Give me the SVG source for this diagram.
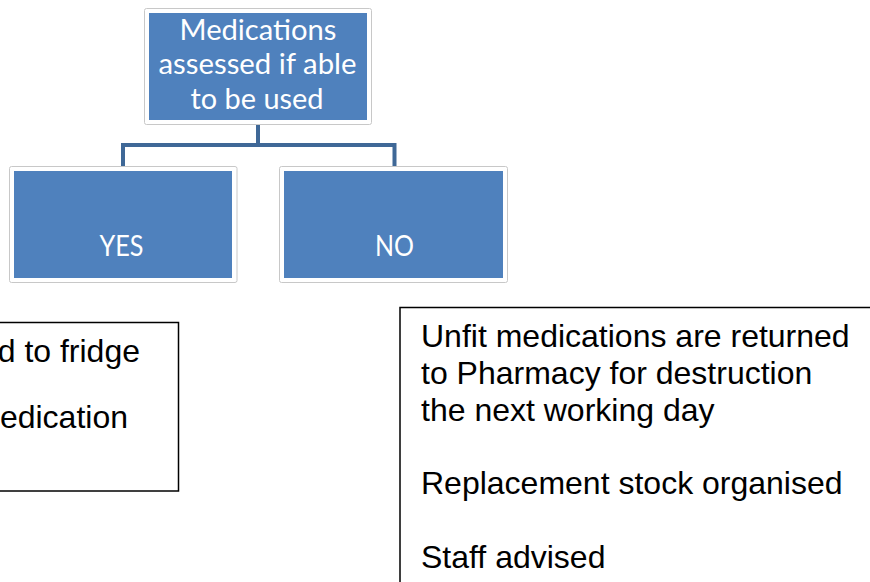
<svg xmlns="http://www.w3.org/2000/svg" width="870" height="582" viewBox="0 0 870 582">
  <style>
    .frame { fill: #ffffff; stroke: #c8c8c8; stroke-width: 1; }
    .blue { fill: #4f81bd; }
    .ntext { font-family: Lato, "Open Sans", sans-serif; font-size: 29px; fill: #ffffff; text-anchor: middle; }
    .box { fill: #ffffff; stroke: #000000; stroke-width: 1.5; }
    .btext { font-family: "Liberation Sans", Arial, sans-serif; font-size: 32px; fill: #000000; }
    .conn { fill: none; stroke: #3f6897; stroke-width: 4; }
  </style>
  <rect width="870" height="582" fill="#ffffff"/>

  <g id="connectors">
    <path class="conn" d="M258 125 V145 M123 145 H394.5 M123 143 V166 M394.5 143 V166"/>
  </g>

  <g id="node-top">
    <rect class="frame" x="144.5" y="8.5" width="227" height="116" rx="2"/>
    <rect class="blue" x="149" y="13" width="218" height="107"/>
    <text class="ntext" x="258" y="40" textLength="157" lengthAdjust="spacingAndGlyphs">Medications</text>
    <text class="ntext" x="257.5" y="74" textLength="198" lengthAdjust="spacingAndGlyphs">assessed if able</text>
    <text class="ntext" x="257" y="109" textLength="133" lengthAdjust="spacingAndGlyphs">to be used</text>
  </g>

  <g id="node-yes">
    <rect class="frame" x="9.5" y="166.5" width="227.5" height="116" rx="2"/>
    <rect class="blue" x="14" y="171" width="218" height="107"/>
    <text class="ntext" x="121.5" y="256" textLength="44" lengthAdjust="spacingAndGlyphs">YES</text>
  </g>

  <g id="node-no">
    <rect class="frame" x="279.5" y="166.5" width="228" height="116" rx="2"/>
    <rect class="blue" x="284" y="171" width="219" height="107"/>
    <text class="ntext" x="394.5" y="256" textLength="39" lengthAdjust="spacingAndGlyphs">NO</text>
  </g>

  <g id="box-yes">
    <rect class="box" x="-5" y="322.5" width="183.5" height="168.5"/>
    <text class="btext" x="140" y="361.5" text-anchor="end">d to fridge</text>
    <text class="btext" x="128" y="428" text-anchor="end">edication</text>
  </g>

  <g id="box-no">
    <rect class="box" x="400" y="307.5" width="480" height="290"/>
    <text class="btext" x="421" y="347">Unfit medications are returned</text>
    <text class="btext" x="421" y="383.8">to Pharmacy for destruction</text>
    <text class="btext" x="421" y="420.6">the next working day</text>
    <text class="btext" x="421" y="494.2">Replacement stock organised</text>
    <text class="btext" x="421" y="567.5">Staff advised</text>
  </g>
</svg>
